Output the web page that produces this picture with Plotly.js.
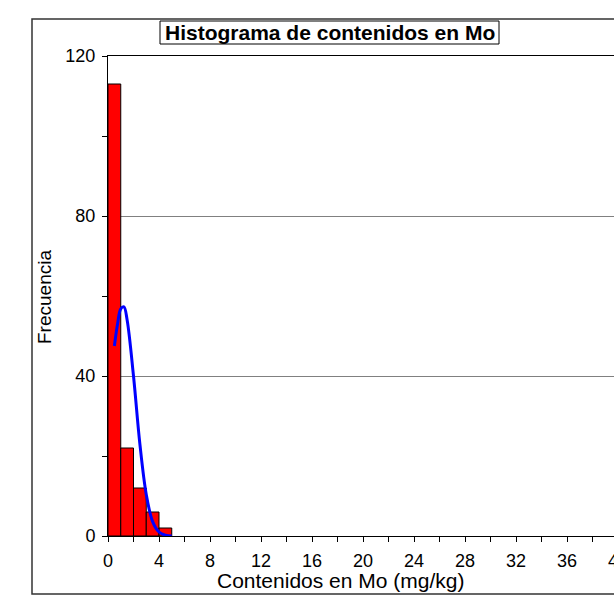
<!DOCTYPE html>
<html><head><meta charset="utf-8">
<script src="https://cdn.plot.ly/plotly-3.0.1.min.js"></script>
<style>html,body{margin:0;padding:0;overflow:hidden;background:#fff;width:614px;height:597px}</style>
</head><body><div id="chart"></div>
<script>
const binCenters = [0.5, 1.5, 2.5, 3.5, 4.5];
const binCounts = [113, 22, 12, 6, 2];
const curveX = [0.5, 0.75, 1.0, 1.25, 1.5, 2.0, 2.5, 3.0, 3.5, 4.0, 4.5, 5.0];
const curveY = [47.5, 53, 56.8, 57.3, 54, 40, 23, 10.4, 3.6, 1.0, 0.2, 0];
const xTickVals = [0, 4, 8, 12, 16, 20, 24, 28, 32, 36, 40, 44];
const yTickVals = [0, 40, 80, 120];

const font = 'Arial, "Liberation Sans", sans-serif';
const PW = 561, PH = 480, L = 108, B = 536;
const px = v => (v - L) / PW;
const py = v => (B - v) / PH;
const data = [
  {type:'bar', x:binCenters, y:binCounts, width:1,
   marker:{color:'#ff0000', line:{color:'#000', width:1}}, hoverinfo:'skip'},
  {type:'scatter', mode:'lines', x:curveX, y:curveY, line:{color:'#0000ff', width:3, shape:'spline'}, hoverinfo:'skip'}
];
const layout = {
  width:700, height:597,
  margin:{l:108, r:700-108-PW, t:56, b:61},
  paper_bgcolor:'#fff', plot_bgcolor:'#fff',
  showlegend:false, bargap:0,
  font:{family:font, color:'#000', size:18},
  xaxis:{range:[0,44], tickvals:xTickVals, ticks:'outside', ticklen:5, tickcolor:'#000',
    showline:true, linecolor:'#000', linewidth:1, mirror:true, showgrid:false, zeroline:false,
    ticklabelstandoff:3,
    minor:{dtick:2, tick0:0, ticks:'outside', ticklen:5, tickcolor:'#000', showgrid:false},
    tickfont:{size:18, family:font}},
  yaxis:{range:[0,120], tickvals:yTickVals, ticks:'outside', ticklen:5, tickcolor:'#000',
    showline:true, linecolor:'#000', linewidth:1, showgrid:true, gridcolor:'#808080', gridwidth:1, zeroline:false,
    ticklabelstandoff:3,
    minor:{dtick:20, tick0:0, ticks:'outside', ticklen:5, tickcolor:'#000', showgrid:false},
    tickfont:{size:18, family:font}},
  shapes:[
    {type:'rect', xref:'paper', yref:'paper', x0:px(32), x1:px(690), y0:py(594), y1:py(19), line:{color:'#333', width:1.5}, layer:'below'},
    {type:'rect', xref:'paper', yref:'paper', x0:px(160), x1:px(499), y0:py(44), y1:py(21), line:{color:'#000', width:1}, fillcolor:'#fff'}
  ],
  annotations:[
    {text:'<b>Histograma de contenidos en Mo</b>', xref:'paper', yref:'paper', x:px(330), y:py(32.5), xanchor:'center', yanchor:'middle', showarrow:false, font:{size:21, family:font}},
    {text:'Contenidos en Mo (mg/kg)', xref:'paper', yref:'paper', x:px(340), y:py(580), xanchor:'center', yanchor:'middle', showarrow:false, font:{size:21, family:font}},
    {text:'Frecuencia', xref:'paper', yref:'paper', x:px(44), y:py(297), xanchor:'center', yanchor:'middle', textangle:-90, showarrow:false, font:{size:19, family:font}}
  ]
};
Plotly.newPlot('chart', data, layout, {displayModeBar:false, staticPlot:true});
</script></body></html>
